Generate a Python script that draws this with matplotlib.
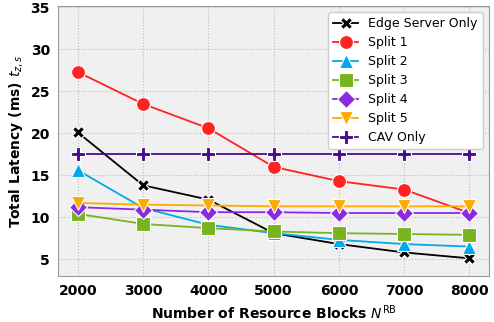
import matplotlib
matplotlib.use("Agg")
import matplotlib.pyplot as plt
import numpy as np

n_rb = [2000, 3000, 4000, 5000, 6000, 7000, 8000]
edge_only = [20.1, 13.8, 12.1, 8.1, 6.8, 5.8, 5.1]
split1 = [27.3, 23.5, 20.6, 16.0, 14.3, 13.3, 10.5]
split2 = [15.6, 11.1, 9.1, 8.1, 7.3, 6.8, 6.5]
split3 = [10.4, 9.2, 8.7, 8.3, 8.1, 8.0, 7.9]
split4 = [11.2, 10.9, 10.6, 10.6, 10.5, 10.5, 10.5]
split5 = [11.7, 11.5, 11.4, 11.3, 11.3, 11.3, 11.3]
cav_only = [17.5, 17.5, 17.5, 17.5, 17.5, 17.5, 17.5]

series = [
    ("Edge Server Only", edge_only, "black", "X", 9),
    ("Split 1", split1, "#ff2222", "o", 10),
    ("Split 2", split2, "#00a8ec", "^", 10),
    ("Split 3", split3, "#77b41f", "s", 10),
    ("Split 4", split4, "#8a2be2", "D", 9),
    ("Split 5", split5, "#ffaa00", "v", 10),
    ("CAV Only", cav_only, "#4b0c8c", "P", 10),
]

fig, ax = plt.subplots(figsize=(4.94, 3.22), dpi=100)
ax.set_facecolor("#f0f0f0")
for lbl, vals, col, mk, ms in series:
    ax.plot(n_rb, vals, color=col, marker=mk, markersize=ms, markeredgecolor="white",
            markeredgewidth=0.8, linewidth=1.3, label=lbl)

ax.set_xlim(1700, 8300)
ax.set_ylim(3, 35.2)
ax.set_xticks(n_rb)
ax.set_yticks([5, 10, 15, 20, 25, 30, 35])
ax.grid(True, linestyle=":", color="#bbbbbb", linewidth=0.8)
ax.set_axisbelow(True)
for lab in ax.get_xticklabels() + ax.get_yticklabels():
    lab.set_fontweight("bold")
ax.tick_params(labelsize=10, length=0, pad=6)
for s in ax.spines.values():
    s.set_color("#999999")
ax.set_xlabel(r"Number of Resource Blocks $N^{\mathrm{RB}}$", fontsize=10, fontweight="bold")
ax.set_ylabel(r"Total Latency (ms) $t_{z,s}$", fontsize=10, fontweight="bold")
ax.legend(loc="upper right", fontsize=9, framealpha=1, edgecolor="#cccccc",
          borderaxespad=0.5, handlelength=2.0, labelspacing=0.48)

fig.subplots_adjust(left=0.118, right=0.99, top=0.982, bottom=0.143)
fig.savefig("out.png", dpi=100)
